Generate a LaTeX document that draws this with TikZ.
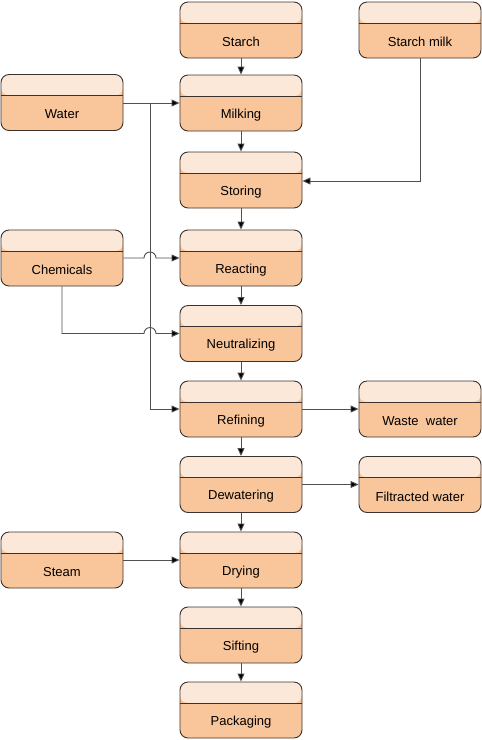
\documentclass[tikz,border=0pt]{standalone}
\usepackage{fontspec}
\setmainfont{Liberation Sans}
\usetikzlibrary{arrows.meta}
\definecolor{boxlow}{RGB}{249,197,154}
\definecolor{boxtop}{RGB}{252,232,217}
\definecolor{boxline}{RGB}{60,50,45}
\definecolor{conn}{RGB}{80,80,80}
\begin{document}
\begin{tikzpicture}[x=1pt,y=-1pt,
  pbox/.style={draw=boxline, line width=0.9pt, fill=boxlow, rounded corners=8pt,
    minimum width=122pt, minimum height=56pt, inner sep=0pt, text=black,
    path picture={
      \fill[boxtop] ([yshift=-0pt]path picture bounding box.north west) rectangle ([yshift=-21pt]path picture bounding box.north east);
      \draw[boxline, line width=0.9pt] ([yshift=-21pt]path picture bounding box.north west) -- ([yshift=-21pt]path picture bounding box.north east);
    }},
  lbl/.style={font=\fontsize{13}{15}\selectfont, yshift=-12pt, text=black},
  flow/.style={draw=conn, line width=0.9pt, -{Triangle[length=8pt,width=7pt,fill=black]}},
  plain/.style={draw=conn, line width=0.9pt}
]
\useasboundingbox (0,0) rectangle (482,740);

% main column
\node[pbox, label={[lbl]center:Starch}] (starch) at (241,30) {};
\node[pbox, label={[lbl]center:Milking}] (milking) at (241,103) {};
\node[pbox, label={[lbl]center:Storing}] (storing) at (241,180) {};
\node[pbox, label={[lbl]center:Reacting}] (reacting) at (241,258) {};
\node[pbox, label={[lbl]center:Neutralizing}] (neutral) at (241,333.5) {};
\node[pbox, label={[lbl]center:Refining}] (refining) at (241,409) {};
\node[pbox, label={[lbl]center:Dewatering}] (dewater) at (241,484.5) {};
\node[pbox, label={[lbl]center:Drying}] (drying) at (241,560) {};
\node[pbox, label={[lbl]center:Sifting}] (sifting) at (241,635) {};
\node[pbox, label={[lbl]center:Packaging}] (packaging) at (241,710) {};

% left column
\node[pbox, label={[lbl]center:Water}] (water) at (62,102.5) {};
\node[pbox, label={[lbl]center:Chemicals}] (chem) at (62,258) {};
\node[pbox, label={[lbl]center:Steam}] (steam) at (62,560) {};

% right column
\node[pbox, label={[lbl]center:Starch milk}] (smilk) at (420,30) {};
\node[pbox, label={[lbl]center:Waste\ \ water}] (waste) at (420,409) {};
\node[pbox, label={[lbl]center:Filtracted water}] (filt) at (420,484.5) {};

% vertical flow
\draw[flow] (starch) -- (milking);
\draw[flow] (milking) -- (storing);
\draw[flow] (storing) -- (reacting);
\draw[flow] (reacting) -- (neutral);
\draw[flow] (neutral) -- (refining);
\draw[flow] (refining) -- (dewater);
\draw[flow] (dewater) -- (drying);
\draw[flow] (drying) -- (sifting);
\draw[flow] (sifting) -- (packaging);

% water
\coordinate (wj) at (150,103);
\coordinate (wb) at (150,409);
\draw[flow] (water.east |- wj) -- (milking.west |- wj);
\draw[plain] (wj) -- (wb);
\draw[flow] (wb) -- (refining.west);

% starch milk
\coordinate (smc) at (420,181);
\draw[flow] (smilk.south) -- (smc) -- (storing.east |- smc);

% chemicals with jumps
\draw[flow] (chem.east) -- (144,258) arc[start angle=180, end angle=360, radius=6] -- (reacting.west);
\coordinate (cc) at (62,333.5);
\draw[flow] (chem.south) -- (cc) -- (144,333.5) arc[start angle=180, end angle=360, radius=6] -- (neutral.west);

% outputs
\draw[flow] (refining.east) -- (waste.west);
\draw[flow] (dewater.east) -- (filt.west);
\draw[flow] (steam.east) -- (drying.west);
\end{tikzpicture}
\end{document}
